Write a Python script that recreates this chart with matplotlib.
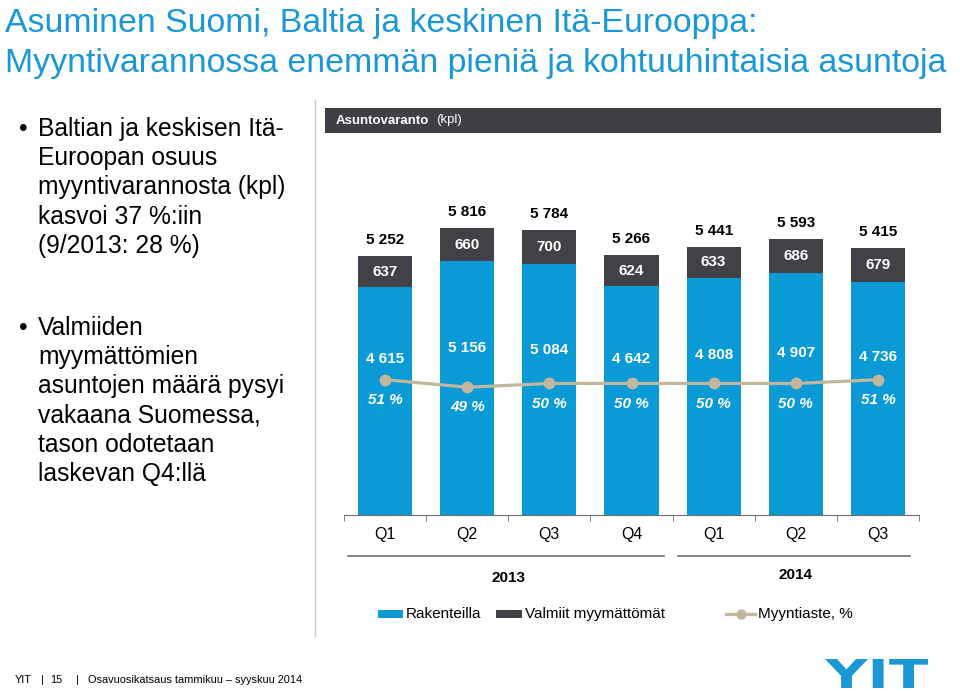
import numpy as np
import matplotlib
matplotlib.use("Agg")
import matplotlib.pyplot as plt
from matplotlib.patches import Rectangle, PathPatch
from matplotlib.lines import Line2D
from matplotlib.textpath import TextPath
from matplotlib.font_manager import FontProperties
from matplotlib.transforms import Affine2D, blended_transform_factory

plt.rcParams['font.family'] = ['Liberation Sans', 'DejaVu Sans']

quarters = ["Q1", "Q2", "Q3", "Q4", "Q1", "Q2", "Q3"]
years = ["2013", "2014"]
year_centers = [1.5, 5.0]
under_construction = [4615, 5156, 5084, 4642, 4808, 4907, 4736]
completed_unsold = [637, 660, 700, 624, 633, 686, 679]
sales_rate = [51, 49, 50, 50, 50, 50, 51]

BLUE = "#0A9AD5"
DARK = "#414146"
TAN = "#C2B69E"
TITLE_BLUE = "#1A98D5"
GRID = "#6E6E6E"

W, H = 960, 691


def fx(px):
    return px / W


def fy(py):
    return 1 - py / H


def fmt(v):
    return f"{v:,}".replace(",", " ")


fig = plt.figure(figsize=(W / 100, H / 100), dpi=100)

# title
fig.text(fx(5), fy(32), "Asuminen Suomi, Baltia ja keskinen Itä-Eurooppa:",
         fontsize=24.4, color=TITLE_BLUE, va='baseline')
fig.text(fx(5), fy(72), "Myyntivarannossa enemmän pieniä ja kohtuuhintaisia asuntoja",
         fontsize=24.4, color=TITLE_BLUE, va='baseline')

# bullet text on the left
bullets = [
    (136, ["Baltian ja keskisen Itä-", "Euroopan osuus", "myyntivarannosta (kpl)",
           "kasvoi 37 %:iin", "(9/2013: 28 %)"]),
    (335, ["Valmiiden", "myymättömien", "asuntojen määrä pysyi",
           "vakaana Suomessa,", "tason odotetaan", "laskevan Q4:llä"]),
]
for y0, lines in bullets:
    fig.text(fx(19), fy(y0), "•", fontsize=17.5, va='baseline')
    for i, line in enumerate(lines):
        fig.text(fx(38), fy(y0 + i * 29.2), line, fontsize=17.7, va='baseline')

# separator and header bar
fig.add_artist(Line2D([fx(315), fx(315)], [fy(100), fy(636)], color="#C8C8C8", lw=1))
fig.add_artist(Rectangle((fx(325), fy(133)), fx(941) - fx(325), fy(108) - fy(133),
                         transform=fig.transFigure, color="#404044", lw=0))
fig.text(fx(336), fy(120.5), "Asuntovaranto", fontsize=9.5, weight='bold',
         color='white', va='center')
fig.text(fx(436), fy(120.5), "(kpl)", fontsize=9.5, color='white', va='center')

# chart
ax = fig.add_axes([fx(344), fy(515), fx(919) - fx(344), fy(135) - fy(515)])
x = np.arange(len(quarters))
totals = [a + b for a, b in zip(under_construction, completed_unsold)]
ax.bar(x, under_construction, width=0.66, color=BLUE, lw=0)
ax.bar(x, completed_unsold, bottom=under_construction, width=0.66, color=DARK, lw=0)
ax.set_xlim(-0.5, 6.5)
ax.set_ylim(0, 7708)
for s in ['top', 'right', 'left']:
    ax.spines[s].set_visible(False)
ax.spines['bottom'].set_color(GRID)
ax.set_yticks([])
ax.set_xticks(x, quarters)
ax.set_xticks(np.arange(-0.5, 7, 1), minor=True)
ax.tick_params(axis='x', which='major', length=0, pad=8.5, labelsize=11.5)
ax.tick_params(axis='x', which='minor', length=4, color=GRID)

for i in x:
    ax.annotate(fmt(totals[i]), (i, totals[i]), xytext=(0, 11.5), textcoords='offset points',
                ha='center', va='center', fontsize=11, weight='bold')
    ax.text(i, under_construction[i] + completed_unsold[i] / 2, fmt(completed_unsold[i]),
            ha='center', va='center', fontsize=11, weight='bold', color='white')
    ax.text(i, 1270 + 0.41 * under_construction[i], fmt(under_construction[i]),
            ha='center', va='center', fontsize=11, weight='bold', color='white')

ax2 = ax.twinx()
ax2.set_ylim(14.9, 116.3)
ax2.axis('off')
ax2.plot(x, sales_rate, color=TAN, lw=2.3, marker='o', markersize=7.5)
for i in x:
    ax2.annotate(f"{sales_rate[i]} %", (i, sales_rate[i]), xytext=(0, -14.5),
                 textcoords='offset points', ha='center', va='center', fontsize=11,
                 weight='bold', style='italic', color='white')

# year grouping
tr = blended_transform_factory(ax.transData, fig.transFigure)
fig.add_artist(Line2D([-0.45, 3.4], [fy(556), fy(556)], transform=tr, color=GRID, lw=1.2))
fig.add_artist(Line2D([3.57, 6.39], [fy(556), fy(556)], transform=tr, color=GRID, lw=1.2))
for yr, xc, py in zip(years, year_centers, [578, 575]):
    fig.text(xc, fy(py), yr, transform=tr, ha='center', va='center',
             fontsize=11, weight='bold')

# legend
ly = fy(614)
fig.add_artist(Rectangle((fx(378), ly - 4 / H), 25 / W, 8 / H, transform=fig.transFigure,
                         color=BLUE, lw=0))
fig.text(fx(406), ly, "Rakenteilla", fontsize=11, va='center')
fig.add_artist(Rectangle((fx(496), ly - 4 / H), 26 / W, 8 / H, transform=fig.transFigure,
                         color=DARK, lw=0))
fig.text(fx(525), ly, "Valmiit myymättömät", fontsize=11, va='center')
fig.add_artist(Line2D([fx(726), fx(755)], [ly, ly], color=TAN, lw=2.3))
fig.add_artist(Line2D([fx(740.5)], [ly], color=TAN, marker='o', markersize=6.5))
fig.text(fx(758), ly, "Myyntiaste, %", fontsize=11, va='center')

# footer
for px, s in [(15, "YIT"), (41, "|"), (50, "15"), (76, "|"), (88, "Osavuosikatsaus tammikuu – syyskuu 2014")]:
    fig.text(fx(px), fy(680), s, fontsize=7.9, va='center')

# logo
tp = TextPath((0, 0), "YIT", size=1, prop=FontProperties(family="DejaVu Sans", weight="heavy"))
bb = tp.get_extents()
lx0, lx1, ly0, ly1 = 825, 928, 688, 659
logo_tr = (Affine2D().translate(-bb.x0, -bb.y0)
           .scale((fx(lx1) - fx(lx0)) / bb.width, (fy(ly1) - fy(ly0)) / bb.height)
           .translate(fx(lx0), fy(ly0)) + fig.transFigure)
fig.add_artist(PathPatch(tp, transform=logo_tr, color=TITLE_BLUE, lw=0))

fig.savefig("out.png", dpi=100)
